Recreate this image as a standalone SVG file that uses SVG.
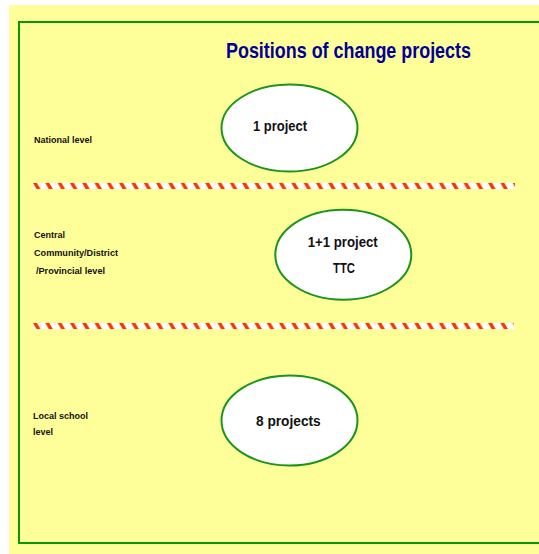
<svg xmlns="http://www.w3.org/2000/svg" width="539" height="554" viewBox="0 0 539 554">
  <defs>
    <pattern id="stripes" patternUnits="userSpaceOnUse" x="33" y="183" width="12.3" height="6">
      <rect x="0" y="0" width="12.3" height="6" fill="#ffffff"/>
      <polygon points="0,0 4,0 7.5,6 3.5,6" fill="#ff3300"/>
    </pattern>
    <pattern id="stripes2" patternUnits="userSpaceOnUse" x="33" y="323" width="12.3" height="6">
      <rect x="0" y="0" width="12.3" height="6" fill="#ffffff"/>
      <polygon points="0,0 4,0 7.5,6 3.5,6" fill="#ff3300"/>
    </pattern>
  </defs>
  <style>
    .lbl { font-family: "Liberation Sans", Arial, sans-serif; font-weight: bold; font-size: 9.5px; fill: #111111; }
    .node ellipse { fill: #ffffff; stroke: #1a951a; stroke-width: 2; }
    .node text { font-family: "Liberation Sans Narrow", "Liberation Sans", Arial, sans-serif; font-weight: bold; font-size: 15.5px; fill: #111111; text-anchor: start; }
    .title { font-family: "Liberation Sans Narrow", "Liberation Sans", Arial, sans-serif; font-weight: bold; font-size: 22px; fill: #000099; }
  </style>
  <rect x="9" y="5" width="530" height="549" fill="#ffff99"/>
  <rect x="19" y="22" width="530" height="521" fill="none" stroke="#0a940a" stroke-width="2"/>
  <text class="title" x="226" y="58" textLength="245" lengthAdjust="spacingAndGlyphs">Positions of change projects</text>

  <g id="levels">
    <text class="lbl" x="34" y="142.5" textLength="58" lengthAdjust="spacingAndGlyphs">National level</text>
    <text class="lbl" x="34" y="237.5" textLength="31" lengthAdjust="spacingAndGlyphs">Central</text>
    <text class="lbl" x="34" y="256" textLength="84" lengthAdjust="spacingAndGlyphs">Community/District</text>
    <text class="lbl" x="36" y="274" textLength="69" lengthAdjust="spacingAndGlyphs">/Provincial level</text>
    <text class="lbl" x="33" y="419" textLength="55" lengthAdjust="spacingAndGlyphs">Local school</text>
    <text class="lbl" x="33" y="435" textLength="20" lengthAdjust="spacingAndGlyphs">level</text>
  </g>

  <g id="dividers">
    <rect x="33" y="183" width="482" height="6" fill="url(#stripes)"/>
    <rect x="33" y="323" width="481" height="6" fill="url(#stripes2)"/>
  </g>

  <g id="node-national" class="node">
    <ellipse cx="289.5" cy="128" rx="68" ry="43.5"/>
    <text x="253" y="131" textLength="54" lengthAdjust="spacingAndGlyphs">1 project</text>
  </g>
  <g id="node-central" class="node">
    <ellipse cx="343.3" cy="254.7" rx="68" ry="45"/>
    <text x="307.7" y="247" textLength="70" lengthAdjust="spacingAndGlyphs">1+1 project</text>
    <text x="333" y="272.7" textLength="22" lengthAdjust="spacingAndGlyphs">TTC</text>
  </g>
  <g id="node-local" class="node">
    <ellipse cx="289.5" cy="420.5" rx="68" ry="45"/>
    <text x="256" y="426" textLength="64.7" lengthAdjust="spacingAndGlyphs">8  projects</text>
  </g>
</svg>
